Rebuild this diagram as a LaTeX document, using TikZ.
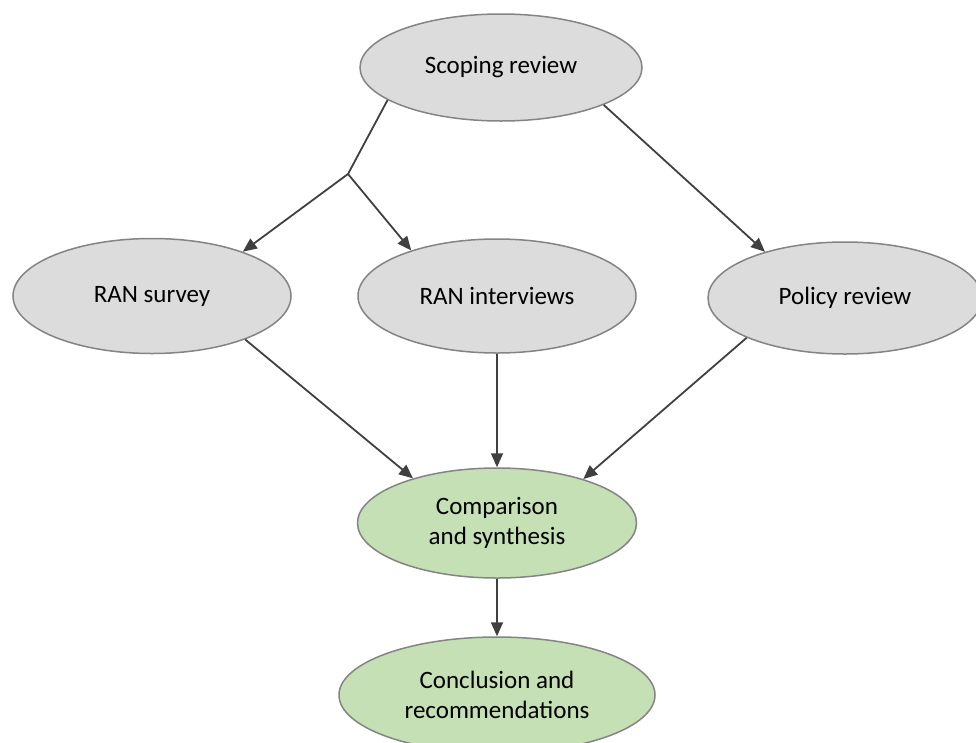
\documentclass[tikz,border=0pt]{standalone}
\usepackage{fontspec}
\setmainfont{Carlito}
\usetikzlibrary{shapes.geometric,arrows.meta}
\definecolor{ellgray}{HTML}{DCDCDC}
\definecolor{ellgreen}{HTML}{C5E0B4}
\definecolor{edgegray}{HTML}{848484}
\definecolor{linegray}{HTML}{404040}
\begin{document}
\begin{tikzpicture}[x=1pt,y=-1pt,
  ell/.style={ellipse,draw=edgegray,line width=1.5pt,inner sep=0pt,align=center,
    font=\fontsize{25}{30}\selectfont},
  grayell/.style={ell,fill=ellgray},
  greenell/.style={ell,fill=ellgreen},
  conn/.style={draw=linegray,line width=1.8pt},
  arr/.style={conn,-{Triangle[length=14pt,width=12pt]}}]
\useasboundingbox (0,0) rectangle (976,742);
\node[grayell,minimum width=282pt,minimum height=107pt] (scop) at (501,67.5) {Scoping review};
\node[grayell,minimum width=278pt,minimum height=115pt] (surv) at (152,296) {RAN survey};
\node[grayell,minimum width=278pt,minimum height=114pt] (intv) at (497,296) {RAN interviews};
\node[grayell,minimum width=274pt,minimum height=112pt] (pol) at (845,298) {Policy review};
\node[greenell,minimum width=279pt,minimum height=110pt] (comp) at (497,523) {Comparison\\and synthesis};
\node[greenell,minimum width=316pt,minimum height=116pt] (conc) at (497,695) {Conclusion and\\recommendations};
\coordinate (br) at (348,174);
\draw[conn] (scop.196.5) -- (br);
\draw[arr] (br) -- (surv.26.3);
\draw[arr] (br) -- (intv.152.6);
\draw[arr] (scop.-20.6) -- (pol.150.2);
\draw[arr] (surv.-25) -- (comp.152.6);
\draw[arr] (intv.south) -- (comp.north);
\draw[arr] (pol.202.6) -- (comp.27.9);
\draw[arr] (comp.south) -- (conc.north);
\end{tikzpicture}
\end{document}
